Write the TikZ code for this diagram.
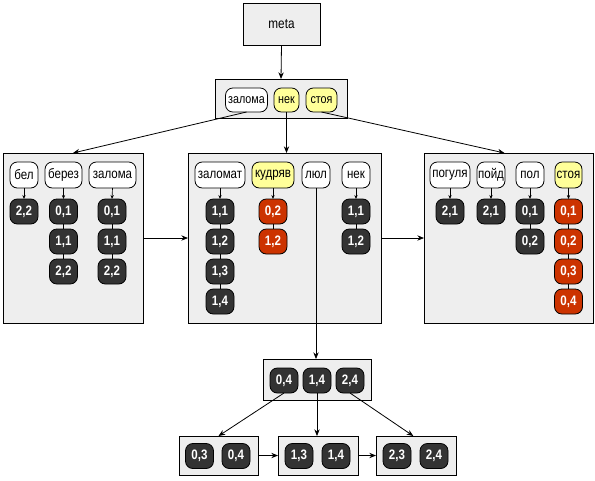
\documentclass[tikz,border=0pt]{standalone}
\usepackage{fontspec}
\setmainfont{Liberation Sans}[FakeStretch=0.84]
\usetikzlibrary{arrows.meta}
\definecolor{boxgray}{HTML}{EEEEEE}
\definecolor{darkn}{HTML}{333333}
\definecolor{redn}{HTML}{CC3300}
\definecolor{yel}{HTML}{FFFF99}
\tikzset{
  box/.style={draw=black, fill=boxgray, line width=0.75pt, inner sep=0pt, outer sep=0pt},
  lab/.style={draw=black, fill=white, rounded corners=5.5pt, line width=0.6pt, inner sep=0pt, outer sep=0pt, minimum height=19.5pt, font=\fontsize{10.3pt}{11pt}\selectfont},
  rlab/.style={lab, minimum height=18pt, font=\fontsize{9.6pt}{11pt}\selectfont},
  hl/.style={fill=yel},
  dk/.style={draw=black, fill=darkn, rounded corners=5.5pt, line width=0.6pt, inner sep=0pt, outer sep=0pt, minimum width=21pt, minimum height=18.75pt, text=white, font=\fontsize{10.3pt}{11pt}\selectfont\bfseries},
  rd/.style={dk, fill=redn},
  arr/.style={-{Stealth[length=5pt,width=4pt]}, line width=0.6pt},
  sarr/.style={-{Stealth[length=3pt,width=2.5pt]}, line width=0.5pt},
  lnk/.style={line width=0.6pt}
}
\begin{document}
\begin{tikzpicture}[x=0.75pt,y=-0.75pt]
\useasboundingbox (0,0) rectangle (595,480);
% containers
\node[box, minimum width=57.75pt, minimum height=31.5pt, font=\fontsize{10.5pt}{11pt}\selectfont] (meta) at (281.5,24) {meta};
\node[box, minimum width=99pt, minimum height=29.25pt] (root) at (281,98.5) {};
\node[box, minimum width=105pt, minimum height=127.5pt] (L) at (73,238) {};
\node[box, minimum width=144.75pt, minimum height=127.5pt] (M) at (284.5,238) {};
\node[box, minimum width=126.75pt, minimum height=127.5pt] (R) at (508.5,238) {};
\node[box, minimum width=81pt, minimum height=30.75pt] (T) at (317,379.5) {};
\node[box, minimum width=59.25pt, minimum height=29.25pt] (B1) at (218.5,455.5) {};
\node[box, minimum width=60pt, minimum height=29.25pt] (B2) at (318,455.5) {};
\node[box, minimum width=60pt, minimum height=29.25pt] (B3) at (416,455.5) {};
% root labels
\node[rlab, minimum width=31.5pt] (r1) at (246.5,100) {залома};
\node[rlab, hl, minimum width=18.75pt] (r2) at (286.5,100) {нек};
\node[rlab, hl, minimum width=23.25pt] (r3) at (321.5,100) {стоя};
% left labels
\node[lab, minimum width=21pt] (l1) at (24,175) {бел};
\node[lab, minimum width=27.75pt] (l2) at (63.5,175) {берез};
\node[lab, minimum width=35.25pt] (l3) at (112.5,175) {залома};
\node[dk] (l1a) at (24,211.5) {2,2};
\node[dk] (l2a) at (63.5,211.5) {0,1};
\node[dk] (l2b) at (63.5,241.5) {1,1};
\node[dk] (l2c) at (63.5,271.5) {2,2};
\node[dk] (l3a) at (112,211.5) {0,1};
\node[dk] (l3b) at (112,241.5) {1,1};
\node[dk] (l3c) at (112,271.5) {2,2};
% middle labels
\node[lab, minimum width=37.5pt] (m1) at (220,175) {заломат};
\node[lab, hl, minimum width=31.5pt] (m2) at (273,175) {кудряв};
\node[lab, minimum width=21pt] (m3) at (316,175) {люл};
\node[lab, minimum width=21pt] (m4) at (356,175) {нек};
\node[dk] (m1a) at (220,211.5) {1,1};
\node[dk] (m1b) at (220,241.5) {1,2};
\node[dk] (m1c) at (220,271.5) {1,3};
\node[dk] (m1d) at (220,301.5) {1,4};
\node[rd] (m2a) at (273,211.5) {0,2};
\node[rd] (m2b) at (273,241.5) {1,2};
\node[dk] (m4a) at (356,211.5) {1,1};
\node[dk] (m4b) at (356,241.5) {1,2};
% right labels
\node[lab, minimum width=30pt] (q1) at (450,175) {погуля};
\node[lab, minimum width=21pt] (q2) at (491,175) {пойд};
\node[lab, minimum width=21pt] (q3) at (530,175) {пол};
\node[lab, hl, minimum width=20.25pt] (q4) at (568.5,175) {стоя};
\node[dk] (q1a) at (450,211.5) {2,1};
\node[dk] (q2a) at (491,211.5) {2,1};
\node[dk] (q3a) at (530,211.5) {0,1};
\node[dk] (q3b) at (530,241.5) {0,2};
\node[rd] (q4a) at (568.5,211.5) {0,1};
\node[rd] (q4b) at (568.5,241.5) {0,2};
\node[rd] (q4c) at (568.5,271.5) {0,3};
\node[rd] (q4d) at (568.5,301.5) {0,4};
% bottom
\node[dk] (t1) at (284,380.5) {0,4};
\node[dk] (t2) at (317,380.5) {1,4};
\node[dk] (t3) at (350,380.5) {2,4};
\node[dk] (b11) at (199.5,456) {0,3};
\node[dk] (b12) at (236,456) {0,4};
\node[dk] (b21) at (299,456) {1,3};
\node[dk] (b22) at (336,456) {1,4};
\node[dk] (b31) at (397,456) {2,3};
\node[dk] (b32) at (434,456) {2,4};
% big arrows
\draw[arr] (meta.south) -- (root.north);
\draw[arr] (r1.south) -- (L.north);
\draw[arr] (r2.south) -- (M.north -| r2.south);
\draw[arr] (r3.south) -- ([xshift=-3pt]R.north);
\draw[arr] (L.east) -- (M.west);
\draw[arr] (M.east) -- (R.west);
\draw[arr] (m3.south) -- (T.north -| m3.south);
\draw[arr] (t1.south) -- (B1.north);
\draw[arr] (t2.south) -- (B2.north -| t2.south);
\draw[arr] (t3.south) -- ([xshift=-2pt]B3.north);
\draw[arr] (B1.east) -- (B2.west);
\draw[arr] (B2.east) -- (B3.west);
% small arrows
\foreach \a/\b in {l1/l1a,l2/l2a,l3/l3a,m1/m1a,m2/m2a,m4/m4a,q1/q1a,q2/q2a,q3/q3a,q4/q4a}
  \draw[sarr] (\a.south) -- (\b.north);
% links
\foreach \a/\b in {l2a/l2b,l2b/l2c,l3a/l3b,l3b/l3c,m1a/m1b,m1b/m1c,m1c/m1d,m2a/m2b,m4a/m4b,q3a/q3b,q4a/q4b,q4b/q4c,q4c/q4d}
  \draw[lnk] (\a.south) -- (\b.north);
\end{tikzpicture}
\end{document}
